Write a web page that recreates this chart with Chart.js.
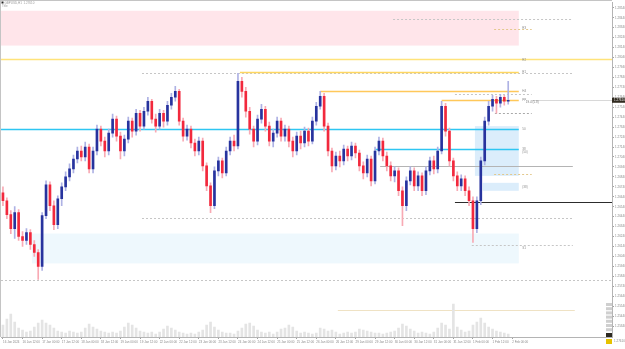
<!DOCTYPE html>
<html><head><meta charset="utf-8">
<script src="https://cdn.jsdelivr.net/npm/chart.js@4.4.1/dist/chart.umd.min.js"></script>
<style>html,body{margin:0;padding:0;background:#fff;overflow:hidden}#wrap{width:625px;height:349px;position:relative}</style>
</head><body><div id="wrap"><canvas id="c" width="625" height="349"></canvas></div>
<script>
const symbolTitle = "GBPUSD,H1";
const tickLabels = ["16 Jan 2024","16 Jan 12:00","17 Jan 00:00","17 Jan 12:00","18 Jan 00:00","18 Jan 12:00","19 Jan 00:00","19 Jan 12:00","22 Jan 00:00","22 Jan 12:00","23 Jan 00:00","23 Jan 12:00","24 Jan 00:00","24 Jan 12:00","25 Jan 00:00","25 Jan 12:00","26 Jan 00:00","26 Jan 12:00","29 Jan 00:00","29 Jan 12:00","30 Jan 00:00","30 Jan 12:00","31 Jan 00:00","31 Jan 12:00","1 Feb 00:00","1 Feb 12:00","2 Feb 00:00"];
const priceTicks = [1.2854,1.2844,1.2834,1.2824,1.2814,1.2804,1.2794,1.2784,1.2774,1.2764,1.2754,1.2744,1.2734,1.2724,1.2714,1.2704,1.2694,1.2684,1.2674,1.2664,1.2654,1.2644,1.2634,1.2624,1.2614,1.2604,1.2594,1.2584,1.2574,1.2564,1.2554,1.2544,1.2534];
const opens = [1.2668,1.2660,1.2646,1.2632,1.2648,1.2624,1.2620,1.2628,1.2616,1.2608,
1.2594,1.2645,1.2676,1.2655,1.2636,1.2662,1.2674,1.2684,1.2692,1.2702,
1.2710,1.2704,1.2714,1.2692,1.2710,1.2732,1.2720,1.2710,1.2728,1.2742,
1.2725,1.2710,1.2722,1.2740,1.2730,1.2748,1.2735,1.2750,1.2760,1.2742,
1.2735,1.2748,1.2740,1.2756,1.2764,1.2770,1.2740,1.2725,1.2732,1.2718,
1.2710,1.2720,1.2695,1.2675,1.2655,1.2690,1.2700,1.2688,1.2710,1.2720,
1.2715,1.2780,1.2770,1.2750,1.2732,1.2720,1.2742,1.2752,1.2735,1.2720,
1.2728,1.2740,1.2725,1.2732,1.2720,1.2710,1.2725,1.2718,1.2730,1.2720,
1.2740,1.2755,1.2765,1.2735,1.2710,1.2695,1.2705,1.2700,1.2712,1.2705,
1.2715,1.2708,1.2695,1.2688,1.2702,1.2680,1.2710,1.2720,1.2705,1.2695,
1.2685,1.2690,1.2670,1.2655,1.2680,1.2690,1.2675,1.2685,1.2670,1.2690,
1.2700,1.2692,1.2710,1.2755,1.2730,1.2700,1.2685,1.2675,1.2682,1.2670,
1.2660,1.2632,1.2660,1.2700,1.2740,1.2755,1.2762,1.2758,1.2764,1.2760];
const highs = [1.2674,1.2663,1.2650,1.2654,1.2651,1.2629,1.2632,1.2631,1.2620,1.2611,
1.2648,1.2680,1.2679,1.2660,1.2665,1.2678,1.2689,1.2697,1.2706,1.2714,
1.2715,1.2719,1.2717,1.2714,1.2736,1.2735,1.2724,1.2732,1.2747,1.2745,
1.2729,1.2726,1.2744,1.2743,1.2752,1.2751,1.2754,1.2764,1.2762,1.2747,
1.2752,1.2751,1.2760,1.2768,1.2775,1.2772,1.2743,1.2736,1.2735,1.2722,
1.2724,1.2723,1.2698,1.2678,1.2694,1.2704,1.2703,1.2714,1.2724,1.2726,
1.2788,1.2784,1.2774,1.2754,1.2735,1.2746,1.2757,1.2755,1.2739,1.2732,
1.2744,1.2743,1.2736,1.2735,1.2724,1.2729,1.2730,1.2734,1.2733,1.2744,
1.2759,1.2770,1.2768,1.2738,1.2713,1.2709,1.2710,1.2716,1.2715,1.2719,
1.2718,1.2711,1.2699,1.2706,1.2705,1.2714,1.2724,1.2723,1.2709,1.2699,
1.2694,1.2693,1.2674,1.2684,1.2694,1.2693,1.2689,1.2688,1.2694,1.2704,
1.2705,1.2714,1.2760,1.2758,1.2733,1.2703,1.2689,1.2686,1.2685,1.2674,
1.2664,1.2664,1.2704,1.2744,1.2760,1.2766,1.2765,1.2767,1.2766,1.2780];
const lows = [1.2655,1.2642,1.2627,1.2622,1.2620,1.2614,1.2616,1.2611,1.2604,1.2581,
1.2590,1.2642,1.2650,1.2631,1.2632,1.2655,1.2670,1.2680,1.2688,1.2698,
1.2700,1.2700,1.2688,1.2688,1.2706,1.2715,1.2704,1.2706,1.2724,1.2720,
1.2702,1.2705,1.2718,1.2724,1.2726,1.2730,1.2732,1.2746,1.2738,1.2729,
1.2732,1.2734,1.2736,1.2752,1.2760,1.2736,1.2720,1.2721,1.2713,1.2705,
1.2706,1.2690,1.2670,1.2648,1.2652,1.2685,1.2683,1.2685,1.2706,1.2710,
1.2712,1.2764,1.2744,1.2727,1.2714,1.2716,1.2738,1.2730,1.2715,1.2714,
1.2724,1.2720,1.2720,1.2714,1.2704,1.2706,1.2712,1.2714,1.2715,1.2717,
1.2736,1.2752,1.2730,1.2705,1.2689,1.2691,1.2694,1.2696,1.2700,1.2701,
1.2703,1.2690,1.2682,1.2684,1.2675,1.2677,1.2706,1.2700,1.2690,1.2680,
1.2679,1.2665,1.2635,1.2650,1.2676,1.2670,1.2670,1.2665,1.2666,1.2686,
1.2687,1.2688,1.2707,1.2725,1.2695,1.2680,1.2670,1.2670,1.2665,1.2655,
1.2618,1.2628,1.2656,1.2696,1.2736,1.2750,1.2748,1.2754,1.2756,1.2757];
const closes = [1.2660,1.2646,1.2632,1.2648,1.2624,1.2620,1.2628,1.2616,1.2608,1.2594,
1.2645,1.2676,1.2655,1.2636,1.2662,1.2674,1.2684,1.2692,1.2702,1.2710,
1.2704,1.2714,1.2692,1.2710,1.2732,1.2720,1.2710,1.2728,1.2742,1.2725,
1.2710,1.2722,1.2740,1.2730,1.2748,1.2735,1.2750,1.2760,1.2742,1.2735,
1.2748,1.2740,1.2756,1.2764,1.2770,1.2740,1.2725,1.2732,1.2718,1.2710,
1.2720,1.2695,1.2675,1.2655,1.2690,1.2700,1.2688,1.2710,1.2720,1.2715,
1.2780,1.2770,1.2750,1.2732,1.2720,1.2742,1.2752,1.2735,1.2720,1.2728,
1.2740,1.2725,1.2732,1.2720,1.2710,1.2725,1.2718,1.2730,1.2720,1.2740,
1.2755,1.2765,1.2735,1.2710,1.2695,1.2705,1.2700,1.2712,1.2705,1.2715,
1.2708,1.2695,1.2688,1.2702,1.2680,1.2710,1.2720,1.2705,1.2695,1.2685,
1.2690,1.2670,1.2655,1.2680,1.2690,1.2675,1.2685,1.2670,1.2690,1.2700,
1.2692,1.2710,1.2755,1.2730,1.2700,1.2685,1.2675,1.2682,1.2670,1.2660,
1.2632,1.2660,1.2700,1.2740,1.2755,1.2762,1.2758,1.2764,1.2760,1.2761];
const volumes = [1200,1800,2300,1500,900,700,500,600,1000,1400,
1700,1400,1200,900,600,500,400,600,500,400,
500,900,1300,1000,800,600,500,400,500,400,
600,1000,1400,1200,900,600,500,400,500,300,
500,800,1100,900,700,500,400,300,400,300,
500,700,1200,1500,1000,700,500,400,400,300,
600,900,1300,1400,1100,700,500,400,500,300,
500,800,900,1200,1000,600,400,500,400,300,
400,900,800,600,700,500,300,400,500,400,
500,800,700,600,500,400,400,300,400,500,
600,900,1300,1100,800,600,400,500,400,300,
500,900,1400,1200,800,3300,1000,700,500,600,
1200,1500,1900,1400,1000,800,600,500,400,300];

// horizontal levels (price, from bar index, to bar index)
const levelPrices = [1.2843,1.2833,1.2802,1.2788,1.2789,1.2770,1.2767,1.2761,1.2748,1.2732,1.2712,1.2695,1.2687,1.2659,1.2643,1.2615,1.2580,1.2550];
const levelFrom   = [99.6,125.4,-0.5,35.5,60.5,81,115.4,112,125.6,-0.5,95,96.3,125.4,115.4,35.5,119.7,-0.5,85.5];
const levelTo     = [145.5,135,155.5,145.5,131.7,131.7,135,131.7,135,131.7,131.7,145.5,135,155.5,145.5,145.5,155.5,146];
const levelStyle  = ['dash','tan','yellowThick','dash','yellow','orange','dash','orange','dashDark','cyan','cyan','grey','tan','black','dash','dash','dash','tanSolid'];
// zones (top price, bottom price, from index, to index)
const zoneTop    = [1.2851,1.2735,1.2678,1.2627];
const zoneBottom = [1.2816,1.2685,1.2670,1.2597];
const zoneFrom   = [-0.5,120.5,122.5,7.4];
const zoneTo     = [131.7,131.7,131.7,131.7];
const zoneColor  = ['#ffe5ea','#dbedfb','#dbedfb','#eef8fd'];
const tagPrices = [1.2833,1.2801,1.2789,1.2770,1.2761,1.2732,1.2712,1.2709,1.2674,1.2612];
const tagTexts  = ['R3','R2','R1','H4','PP','50','38','(50)','(38)','S1'];

const styles = {
  dash:{c:'#c6c6c6',w:1,d:[2,2]}, dashDark:{c:'#a8a8a8',w:1,d:[2,2]}, tan:{c:'#e3c88c',w:1,d:[2,2]},
  yellowThick:{c:'#ffe37a',w:1.6,d:[]}, yellow:{c:'#ffd760',w:1.4,d:[]}, orange:{c:'#ffc85a',w:1.4,d:[]},
  cyan:{c:'#2ec6f2',w:1.3,d:[]}, grey:{c:'#b4b4b4',w:1,d:[]}, black:{c:'#2c2c2c',w:1,d:[]}, tanSolid:{c:'#efe2c4',w:1,d:[]}
};

const N = 156;
const cats = Array.from({length:N},(_,i)=>String(i));
const labelAt = {}; tickLabels.forEach((t,k)=>{labelAt[k*5]=t;});
const bull = opens.map((o,i)=>closes[i]>=o);
const FONT = 'Liberation Sans';

const overlay = {
  id:'overlay',
  beforeDatasetsDraw(chart){
    const {ctx, chartArea:ca, scales:{x,y}} = chart;
    ctx.save();
    ctx.beginPath(); ctx.rect(ca.left,ca.top,ca.width,ca.height); ctx.clip();
    zoneTop.forEach((t,i)=>{
      const x1=x.getPixelForValue(zoneFrom[i]), x2=x.getPixelForValue(zoneTo[i]);
      const y1=y.getPixelForValue(t), y2=y.getPixelForValue(zoneBottom[i]);
      ctx.fillStyle=zoneColor[i]; ctx.fillRect(x1,y1,x2-x1,y2-y1);
    });
    levelPrices.forEach((p,i)=>{
      const s=styles[levelStyle[i]];
      const yy=Math.round(y.getPixelForValue(p))+0.5;
      ctx.strokeStyle=s.c; ctx.lineWidth=s.w; ctx.setLineDash(s.d);
      ctx.beginPath(); ctx.moveTo(x.getPixelForValue(levelFrom[i]),yy); ctx.lineTo(x.getPixelForValue(levelTo[i]),yy); ctx.stroke();
    });
    const last=closes[closes.length-1];
    const yl=Math.round(y.getPixelForValue(last))+0.5;
    ctx.setLineDash([]); ctx.strokeStyle='#d8d8d8'; ctx.lineWidth=1;
    ctx.beginPath(); ctx.moveTo(x.getPixelForValue(135),yl); ctx.lineTo(ca.right,yl); ctx.stroke();
    ctx.restore();
  },
  afterDraw(chart){
    const {ctx, chartArea:ca, scales:{x,y}} = chart;
    ctx.save();
    ctx.strokeStyle='#c4c4c4'; ctx.lineWidth=1;
    ctx.beginPath(); ctx.moveTo(0,0.5); ctx.lineTo(ca.right,0.5); ctx.moveTo(0.5,0); ctx.lineTo(0.5,ca.bottom); ctx.stroke();
    ctx.font='3px '+FONT; ctx.fillStyle='#8a8a8a'; ctx.textBaseline='middle'; ctx.textAlign='left';
    const tx=x.getPixelForValue(132.6);
    tagPrices.forEach((p,i)=>{ ctx.fillText(tagTexts[i], tx, y.getPixelForValue(p)); });
    const last=closes[closes.length-1];
    ctx.fillStyle='#777'; ctx.fillText('19.4 (5.8)', x.getPixelForValue(133.5), y.getPixelForValue(last)+1.5);
    const yl=y.getPixelForValue(last);
    ctx.fillStyle='#302a1f'; ctx.fillRect(ca.right,yl-2.5,625-ca.right,5);
    ctx.fillStyle='#f0f0f0'; ctx.fillText(last.toFixed(5), ca.right+2, yl);
    ctx.fillStyle='#222'; ctx.fillRect(1.5,1.5,2,2);
    ctx.fillStyle='#9a9a9a'; ctx.fillText(symbolTitle+'  '+last.toFixed(5), 4.5, 2.8);
    ctx.fillText('Title', 2, 6.5);
    ctx.fillStyle='#cfcfcf';
    for(let k=0;k<7;k++){ ctx.fillRect(606,303+k*4.2,6,3); }
    ctx.fillStyle='#2d2a22'; ctx.fillRect(606,333,6,4);
    ctx.fillStyle='#e6c200'; ctx.fillRect(606,339,6,5);
    ctx.fillStyle='#8a8a8a'; ctx.fillText('1.27610', 614, 341.5);
    ctx.restore();
  }
};

new Chart(document.getElementById('c'), {
  type:'bar',
  data:{
    labels:cats,
    datasets:[
      {label:'body', data:opens.map((o,i)=>[o,closes[i]]), backgroundColor:bull.map(b=>b?'#27339e':'#f2293d'), barThickness:2, grouped:false, order:0, borderWidth:0},
      {label:'wick', data:lows.map((l,i)=>[l,highs[i]]), backgroundColor:bull.map(b=>b?'#aeb2e4':'#f8aab4'), barThickness:1, grouped:false, order:1, borderWidth:0},
      {label:'volume', data:volumes, yAxisID:'y2', backgroundColor:'#e4e4e4', barThickness:2, grouped:false, order:2, borderWidth:0}
    ]
  },
  options:{
    responsive:false, animation:false, devicePixelRatio:1,
    layout:{padding:{left:1,top:1,right:0,bottom:0}},
    plugins:{legend:{display:false}, tooltip:{enabled:false}},
    scales:{
      x:{offset:true,
        ticks:{autoSkip:false,maxRotation:0,minRotation:0,align:'start',padding:1,color:'#8a8a8a',font:{size:3,family:FONT},callback:(v,i)=>labelAt[i]??''},
        grid:{drawOnChartArea:false,offset:false,tickLength:2,color:c=>labelAt[c.index]!==undefined?'#a0a0a0':'rgba(0,0,0,0)'},
        border:{color:'#b4b4b4'},
        afterFit:s=>{s.height=12;}},
      y:{position:'right',min:1.2523,max:1.2859,
        afterBuildTicks:s=>{s.ticks=priceTicks.map(v=>({value:v}));},
        ticks:{autoSkip:false,padding:1,color:'#8a8a8a',font:{size:3,family:FONT},callback:v=>Number(v).toFixed(5)},
        grid:{drawOnChartArea:false,tickLength:2,color:'#a0a0a0'},
        border:{color:'#b4b4b4'},
        afterFit:s=>{s.width=13;}},
      y2:{display:false,min:0,max:33600}
    }
  },
  plugins:[overlay]
});
</script></body></html>
